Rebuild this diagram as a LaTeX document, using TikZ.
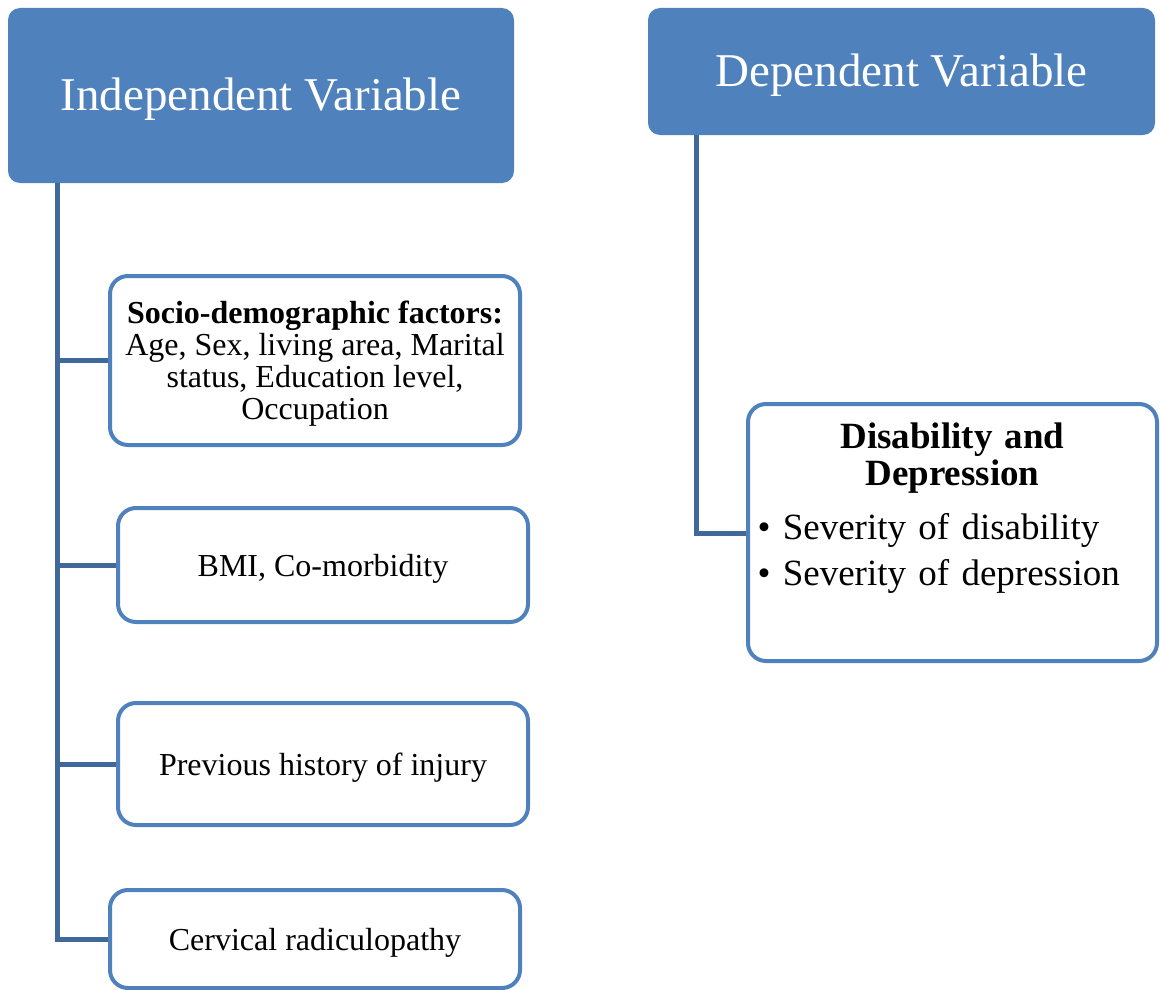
\documentclass[tikz,border=0pt]{standalone}
\usepackage{fontspec}
\setmainfont{Liberation Serif}
\definecolor{hdrblue}{HTML}{4F81BD}
\definecolor{linkblue}{HTML}{41689A}
\begin{document}
\begin{tikzpicture}[x=1pt,y=-1pt,
  header/.style={draw=none, fill=hdrblue, rounded corners=12pt, text=white,
    font=\fontsize{47}{56}\selectfont, inner sep=0pt, text height=40pt, text depth=10pt},
  itembox/.style={draw=hdrblue, line width=4pt, fill=white, rounded corners=18pt,
    minimum width=410pt, inner sep=0pt, align=center,
    font=\fontsize{32}{32}\selectfont},
  itemone/.style={itembox, text height=29pt, text depth=7pt},
  link/.style={draw=linkblue, line width=5pt, line join=miter}
]
\useasboundingbox (0,0) rectangle (1160,990);

% headers
\node[header, minimum width=506pt, minimum height=175pt] (indep) at (261,95.5) {Independent Variable};
\node[header, minimum width=507pt, minimum height=127pt] (dep) at (901.5,71.5) {Dependent Variable};

% connectors
\coordinate (ltop) at (57,183);
\coordinate (lbot) at (57,939);
\coordinate (rtop) at (696,135);
\coordinate (rbot) at (696,533);

% left items
\node[itembox, minimum height=169pt] (socio) at (315,360.5)
  {\rule{0pt}{29pt}\textbf{Socio-demographic factors:}\\Age, Sex, living area, Marital\\status, Education level,\\Occupation};
\node[itemone, minimum height=114pt] (bmi) at (323,565) {BMI, Co-morbidity};
\node[itemone, minimum height=122pt] (injury) at (323,764) {Previous history of injury};
\node[itemone, minimum height=98pt] (cerv) at (315,939) {Cervical radiculopathy};

% right item
\node[itembox, minimum width=409pt, minimum height=257pt] (disab) at (952.5,532.5) {};
\node[anchor=north, inner sep=0pt, text width=390pt, align=left,
  font=\fontsize{37}{37}\selectfont] (disabtext) at ([yshift=-21pt]disab.north)
  {\centering\textbf{Disability and\\Depression}\par\vspace{17pt}\raggedright
   \textbullet\ Severity of disability\\[9pt]\textbullet\ Severity of depression\par};

\draw[link] (ltop) -- (lbot) -- (cerv.west);
\draw[link] (socio.west -| ltop) -- (socio.west);
\draw[link] (bmi.west -| ltop) -- (bmi.west);
\draw[link] (injury.west -| ltop) -- (injury.west);
\draw[link] (rtop) -- (rbot) -- (disab.west |- rbot);
\end{tikzpicture}
\end{document}
